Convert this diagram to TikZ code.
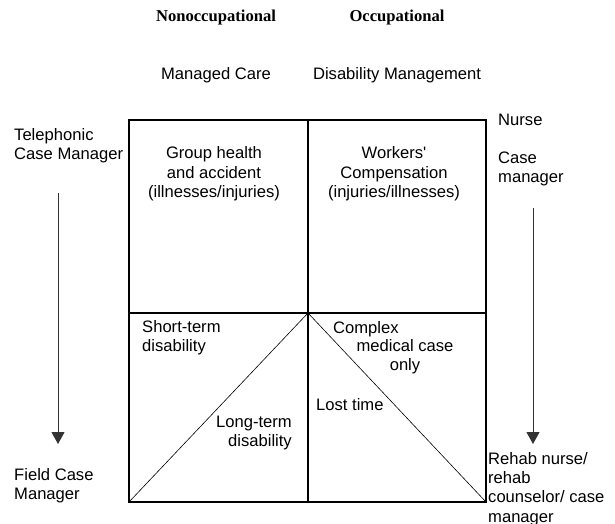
\documentclass[tikz,border=0pt]{standalone}
\usepackage{fontspec}
\setmainfont{Liberation Sans}
\newfontfamily\headfont{Liberation Serif}
\usetikzlibrary{arrows.meta}
\begin{document}
\begin{tikzpicture}[x=1pt,y=-1pt,
  every node/.style={inner sep=0pt,font=\fontsize{16.6}{19.3}\selectfont},
  head/.style={font=\fontsize{16.6}{19.3}\selectfont\headfont\bfseries},
  frame/.style={line width=1.1pt},
  diag/.style={line width=0.6pt},
  arr/.style={line width=1pt,black!80,-{Triangle[length=12pt,width=13pt]}}]
\useasboundingbox (0,0) rectangle (615,524);
% column heads
\node[head] (nonocc) at (216,18) {Nonoccupational};
\node[head] (occ) at (397,18) {Occupational};
\node (mc) at (216,75) {Managed Care};
\node (dm) at (397,75) {Disability Management};
% box
\coordinate (tl) at (129,120);
\coordinate (tm) at (308,120);
\coordinate (tr) at (486,120);
\coordinate (ml) at (129,313);
\coordinate (mm) at (308,313);
\coordinate (mr) at (486,313);
\coordinate (bl) at (129,502);
\coordinate (bm) at (308,502);
\coordinate (br) at (486,502);
\draw[frame] (tl) -- (tr) -- (br) -- (bl) -- cycle;
\draw[frame] (ml) -- (mr);
\draw[line width=1.8pt] (tm) -- (bm);
\draw[diag] (bl) -- (mm) -- (br);
% cells
\node[align=center] (group) at (214,174) {Group health\\and accident\\(illnesses/injuries)};
\node[align=center] (workers) at (394,174) {Workers\textquotesingle\\Compensation\\(injuries/illnesses)};
\node[align=left,anchor=west] (short) at (142,338) {Short-term\\disability};
\node[anchor=west] (complex) at (333,329) {Complex};
\node[align=center] (medical) at (405,357) {medical case\\only};
\node[anchor=west] (lost) at (316,405) {Lost time};
\node[align=right,anchor=east] (long) at (292,433) {Long-term\\disability};
% sides
\node[align=left,anchor=west] (tele) at (14,146) {Telephonic\\Case Manager};
\node[align=left,anchor=west] (field) at (14,486) {Field Case\\Manager};
\node[anchor=west] (nurse) at (498,120) {Nurse};
\node[align=left,anchor=west] (casemgr) at (498,169) {Case\\manager};
\node[align=left,anchor=west] (rehab) at (488,489) {Rehab nurse/\\rehab\\counselor/ case\\manager};
\coordinate (ltop) at (58,193);
\coordinate (lbot) at (58,444);
\coordinate (rtop) at (533,208);
\coordinate (rbot) at (533,444);
\draw[arr] (ltop) -- (lbot);
\draw[arr] (rtop) -- (rbot);
\end{tikzpicture}
\end{document}
